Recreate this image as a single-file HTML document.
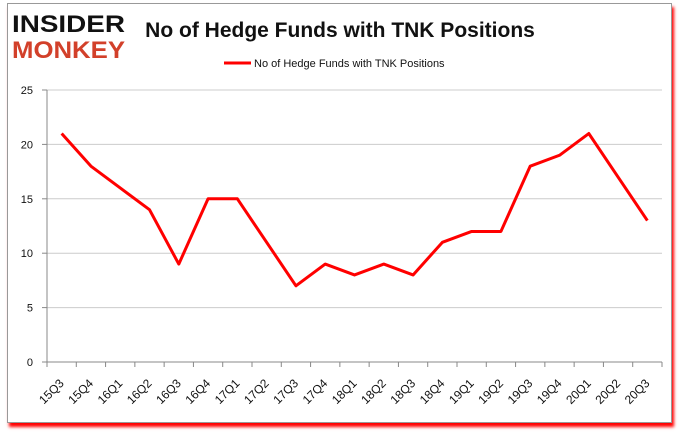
<!DOCTYPE html>
<html><head><meta charset="utf-8"><style>
body{margin:0;width:680px;height:433px;background:#fff;overflow:hidden;font-family:"Liberation Sans",sans-serif}
#frame{position:absolute;left:7px;top:3px;width:663px;height:418px;border:1px solid #999;box-shadow:2px 4px 3px #f00;background:#fff}
</style></head><body>
<div id="frame"></div>
<svg id="c" width="680" height="433" style="position:absolute;left:0;top:0">
<g font-family="Liberation Sans, sans-serif" font-weight="bold">
<text x="12" y="32" font-size="24" fill="#111" textLength="113" lengthAdjust="spacingAndGlyphs">INSIDER</text>
<text x="12" y="58" font-size="24" fill="#d2402a" textLength="113" lengthAdjust="spacingAndGlyphs">MONKEY</text>
</g>
<text x="340" y="37" text-anchor="middle" font-size="21" font-weight="bold" fill="#111">No of Hedge Funds with TNK Positions</text>
<g>
<line x1="224" y1="63" x2="251" y2="63" stroke="#f00" stroke-width="3"/>
<text x="254" y="67" font-size="11" fill="#111">No of Hedge Funds with TNK Positions</text>
</g>
<g id="grid"></g><g id="xt"></g><g id="yt"></g>
<polyline id="line" fill="none" stroke="#f00" stroke-width="3" stroke-linejoin="round"/>
</svg>
<script>
const categories=["15Q3","15Q4","16Q1","16Q2","16Q3","16Q4","17Q1","17Q2","17Q3","17Q4","18Q1","18Q2","18Q3","18Q4","19Q1","19Q2","19Q3","19Q4","20Q1","20Q2","20Q3"];
const values=[21,18,16,14,9,15,15,11,7,9,8,9,8,11,12,12,18,19,21,17,13];
const yTicks=[0,5,10,15,20,25];
const L=47,R=662,T=90,B=362,yMax=25;
const bw=(R-L)/categories.length;
const xs=i=>L+bw*(i+0.5);
const ys=v=>B-(v/yMax)*(B-T);
const NS="http://www.w3.org/2000/svg";
function mk(t,a,p){const e=document.createElementNS(NS,t);for(const k in a)e.setAttribute(k,a[k]);p.appendChild(e);return e;}
const grid=document.getElementById('grid'),xt=document.getElementById('xt'),yt=document.getElementById('yt');
yTicks.forEach(v=>{
 const g=mk('line',{x1:L,x2:R,y1:ys(v),y2:ys(v),stroke:v===0?'#888':'#ccc','stroke-width':1},grid);
 
 
 mk('line',{x1:L-5,x2:L,y1:ys(v),y2:ys(v),stroke:'#888'},grid);
 const t=mk('text',{x:L-14,y:ys(v)+4,'text-anchor':'end','font-size':11,fill:'#111'},yt);
 t.textContent=v;
 
 
});
mk('line',{x1:L,x2:L,y1:T,y2:B,stroke:'#888'},grid);
for(let i=0;i<=categories.length;i++){mk('line',{x1:L+bw*i,x2:L+bw*i,y1:B,y2:B+5,stroke:'#888'},grid);}
categories.forEach((c,i)=>{
 const x=xs(i)+3,y=B+22;
 const t=mk('text',{x:x,y:y,'text-anchor':'end','font-size':12,fill:'#111',transform:`rotate(-45 ${x} ${y})`},xt);
 t.textContent=c;
 
 
});
document.getElementById('line').setAttribute('points',values.map((v,i)=>xs(i)+','+ys(v)).join(' '));
</script>
</body></html>
